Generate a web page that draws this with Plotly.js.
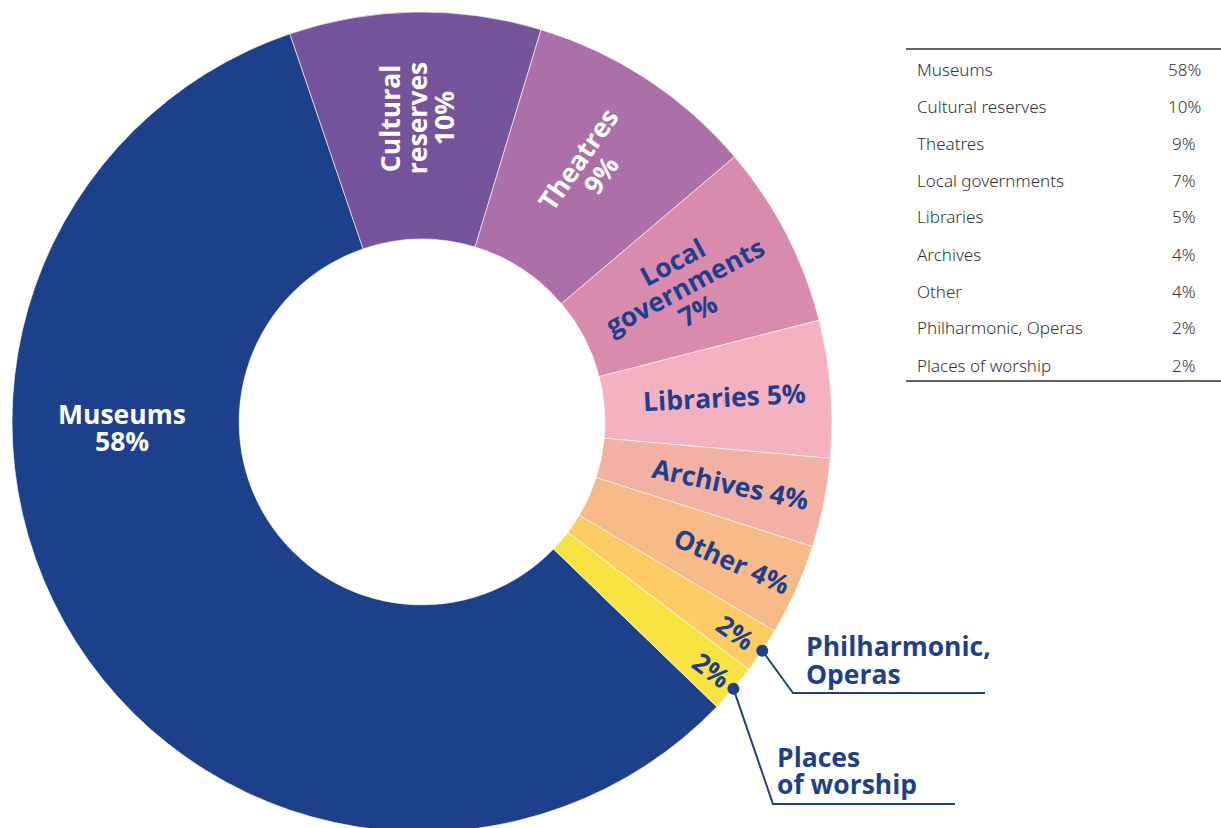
<!DOCTYPE html>
<html><head><meta charset="utf-8">
<script src="https://cdn.plot.ly/plotly-3.0.1.min.js"></script>
<style>html,body{margin:0;padding:0;overflow:hidden;background:#fff}#chart{width:1221px;height:840px}</style>
</head><body><div id="chart"></div>
<script>
// ---- data ----
const categories = ['Museums','Cultural reserves','Theatres','Local governments','Libraries','Archives','Other','Philharmonic, Operas','Places of worship'];
const shares = [57.5, 9.9, 9.1, 7.2, 5.4, 3.5, 3.6, 1.8, 1.9];
const pctLabels = ['58%','10%','9%','7%','5%','4%','4%','2%','2%'];

// ---- styles ----
const colors = ['#1D408A','#76549C','#AD6FA7','#D98BAE','#F4B1C0','#F3B1A4','#F8BA88','#FDCD63','#F7E443'];
const textColors = ['#fff','#fff','#fff','#1F3F8C','#1F3F8C','#1F3F8C','#1F3F8C','#1F3F8C','#1F3F8C'];
const wrapMode = ['stack','words','stack','words','inline','inline','inline','pct','pct'];
const textAngles = [0,-90,-55,-28,-3,12,24,35,37];
const labelRadius = [0.732,0.741,0.744,0.722,0.741,0.768,0.829,0.92,0.93];
const angleOverride = [269,null,null,null,null,null,null,null,null];
const callout = [null,null,null,null,null,null,null,
  {lines:['Philharmonic,','Operas'], elbow:[793,693], end:[985,693], tx:804, ty:[646,674]},
  {lines:['Places','of worship'], elbow:[773,804], end:[955,804], tx:775, ty:[757,784]}];

const W = 1221, H = 840;
const NAVY = '#1F3F8C';
const LABEL_FONT = 'Open Sans, Noto Sans, sans-serif';
const LABEL_SIZE = 26.5;
const dom = {x:[12/W, 832/W], y:[(H-832)/H, (H-12)/H]};
const rotation = 134;
const hole = 0.446;
const cx = (dom.x[0]+dom.x[1])/2*W;
const cy = (1-(dom.y[0]+dom.y[1])/2)*H;
const R = Math.min((dom.x[1]-dom.x[0])*W, (dom.y[1]-dom.y[0])*H)/2;
const px = x => x/W, py = y => 1 - y/H;

const total = shares.reduce((a,b)=>a+b,0);
const annotations = [], shapes = [];
let cum = 0;
shares.forEach((v,i)=>{
  const mid = rotation + (cum + v/2)/total*360;
  cum += v;
  const th = (angleOverride[i] !== null ? angleOverride[i] : mid) * Math.PI/180;
  const lx = cx + labelRadius[i]*R*Math.sin(th);
  const ly = cy - labelRadius[i]*R*Math.cos(th);
  let lines;
  const name = categories[i];
  if (wrapMode[i]==='stack') lines = [name, pctLabels[i]];
  else if (wrapMode[i]==='words') lines = name.split(' ').concat([pctLabels[i]]);
  else if (wrapMode[i]==='inline') lines = [name+' '+pctLabels[i]];
  else lines = [pctLabels[i]];
  const a = textAngles[i]*Math.PI/180;
  const gap = 27;
  lines.forEach((t,j)=>{
    const off = (j-(lines.length-1)/2)*gap;
    const x = lx + off*(-Math.sin(a));
    const y = ly + off*(Math.cos(a));
    annotations.push({xref:'paper',yref:'paper',x:px(x),y:py(y),text:'<b>'+t+'</b>',showarrow:false,
      textangle:textAngles[i],xanchor:'center',yanchor:'middle',
      font:{family:LABEL_FONT,size:LABEL_SIZE,color:textColors[i]}});
  });
  if (callout[i]) {
    const c = callout[i];
    const thm = mid*Math.PI/180;
    const dx = cx + R*Math.sin(thm), dy = cy - R*Math.cos(thm);
    shapes.push({type:'path',xref:'paper',yref:'paper',
      path:`M${px(dx)},${py(dy)} L${px(c.elbow[0])},${py(c.elbow[1])} L${px(c.end[0])},${py(c.end[1])}`,
      line:{color:NAVY,width:2}});
    shapes.push({type:'circle',xref:'paper',yref:'paper',x0:px(dx-6),x1:px(dx+6),y0:py(dy+6),y1:py(dy-6),
      fillcolor:NAVY,line:{color:NAVY,width:0}});
    c.lines.forEach((t,j)=>{
      annotations.push({xref:'paper',yref:'paper',x:px(c.tx),y:py(c.ty[j]),text:'<b>'+t+'</b>',showarrow:false,
        xanchor:'left',yanchor:'middle',font:{family:LABEL_FONT,size:LABEL_SIZE,color:NAVY}});
    });
  }
});

// table
const tTop = 49, tBot = 381, tX0 = 906, tX1 = 1221, row0 = 69, rowStep = 37;
shapes.push({type:'line',xref:'paper',yref:'paper',x0:px(tX0),x1:px(tX1),y0:py(tTop),y1:py(tTop),line:{color:'#333',width:1.5}});
shapes.push({type:'line',xref:'paper',yref:'paper',x0:px(tX0),x1:px(tX1),y0:py(tBot),y1:py(tBot),line:{color:'#333',width:1.5}});
categories.forEach((c,i)=>{
  const y = row0 + i*rowStep;
  annotations.push({xref:'paper',yref:'paper',x:px(915),y:py(y),text:c,showarrow:false,xanchor:'left',yanchor:'middle',
    font:{family:'Noto Sans, sans-serif',size:17,weight:300,color:'#333'}});
  annotations.push({xref:'paper',yref:'paper',x:px(1184),y:py(y),text:pctLabels[i],showarrow:false,xanchor:'center',yanchor:'middle',
    font:{family:'Noto Sans, sans-serif',size:17,weight:300,color:'#333'}});
});

const trace = {type:'pie', values:shares, labels:categories, sort:false, direction:'clockwise',
  rotation:rotation, hole:hole, textinfo:'none', hoverinfo:'none', showlegend:false,
  marker:{colors:colors, line:{color:'#ffffff', width:0.6}}, domain:dom};

Plotly.newPlot('chart',[trace],{width:W,height:H,margin:{l:0,r:0,t:0,b:0},
  paper_bgcolor:'#fff',plot_bgcolor:'#fff',showlegend:false,annotations:annotations,shapes:shapes},
  {staticPlot:true});
</script></body></html>
